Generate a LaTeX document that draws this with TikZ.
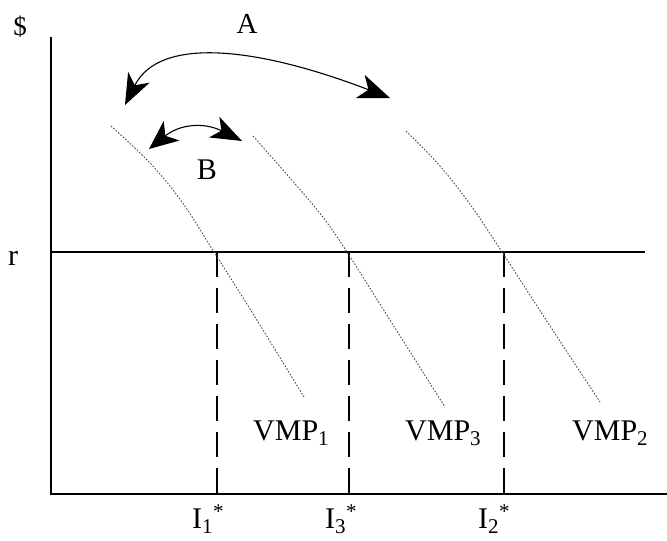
\documentclass[tikz,border=0pt]{standalone}
\usepackage{fontspec}
\setmainfont{Liberation Serif}
\usetikzlibrary{arrows.meta}
\begin{document}
\begin{tikzpicture}[x=1pt,y=-1pt,
  axisline/.style={line width=1.8pt,black},
  rline/.style={line width=1.6pt,black},
  dropline/.style={line width=1.8pt,black,dash pattern=on 25pt off 11pt},
  vmpcurve/.style={line width=0.9pt,black!70,dash pattern=on 1.6pt off 1.6pt},
  bigarrow/.style={line width=1.1pt,black,{Stealth[length=31pt,width=24pt,inset=9pt]}-{Stealth[length=32pt,width=25pt,inset=9pt]}},
  smallarrow/.style={line width=1.1pt,black,{Stealth[length=29pt,width=25pt,inset=8pt]}-{Stealth[length=31pt,width=23pt,inset=8pt]}},
  lbl/.style={inner sep=0pt,font=\fontsize{30}{36}\selectfont},
  ilbl/.style={inner sep=0pt,anchor=base west,font=\fontsize{30}{36}\selectfont}]
\useasboundingbox (0,0) rectangle (667,541);
% axes
\coordinate (top) at (51,37);
\coordinate (origin) at (51,494);
\coordinate (xend) at (667,494);
\coordinate (rstart) at (51,252);
\coordinate (rend) at (645,252);
\draw[axisline] (top) -- (origin) -- (xend);
\draw[rline] (rstart) -- (rend);
% drop lines
\coordinate (p1) at (217,252); \coordinate (q1) at (217,494);
\coordinate (p3) at (349,252); \coordinate (q3) at (349,494);
\coordinate (p2) at (504,252); \coordinate (q2) at (504,494);
\draw[dropline] (p1) -- (q1);
\draw[dropline] (p3) -- (q3);
\draw[dropline] (p2) -- (q2);
% VMP curves
\draw[vmpcurve] plot[smooth,tension=0.6] coordinates {(111,126) (150,163) (182,202) (214,252) (255,317) (304,397)};
\draw[vmpcurve] plot[smooth,tension=0.6] coordinates {(253,136) (290,178) (322,216) (347,252) (395,328) (445,407)};
\draw[vmpcurve] plot[smooth,tension=0.6] coordinates {(406,131) (440,166) (472,207) (502,252) (550,326) (600,402)};
% labels
\node[lbl,font=\fontsize{27}{30}\selectfont] (dollar) at (20,27) {\$};
\node[lbl,anchor=base] (r) at (13,265) {r};
\node[lbl,font=\fontsize{29}{32}\selectfont] (A) at (247,24) {A};
\node[lbl] (B) at (207,170) {B};
\node[ilbl] (vmp1) at (253,440) {VMP\textsubscript{1}};
\node[ilbl] (vmp3) at (405,440) {VMP\textsubscript{3}};
\node[ilbl] (vmp2) at (572,440) {VMP\textsubscript{2}};
\node[ilbl] (i1) at (192,528) {I\textsubscript{1}\textsuperscript{*}};
\node[ilbl] (i3) at (325,528) {I\textsubscript{3}\textsuperscript{*}};
\node[ilbl] (i2) at (478,528) {I\textsubscript{2}\textsuperscript{*}};
% arrows
\coordinate (aL) at (125,105);
\coordinate (aR) at (390,98);
\coordinate (bL) at (149,149);
\coordinate (bR) at (242,141);
\draw[bigarrow] (aL) .. controls (160,35) and (260,48) .. (aR);
\draw[smallarrow] (bL) .. controls (180,124) and (204,122) .. (bR);
\end{tikzpicture}
\end{document}
